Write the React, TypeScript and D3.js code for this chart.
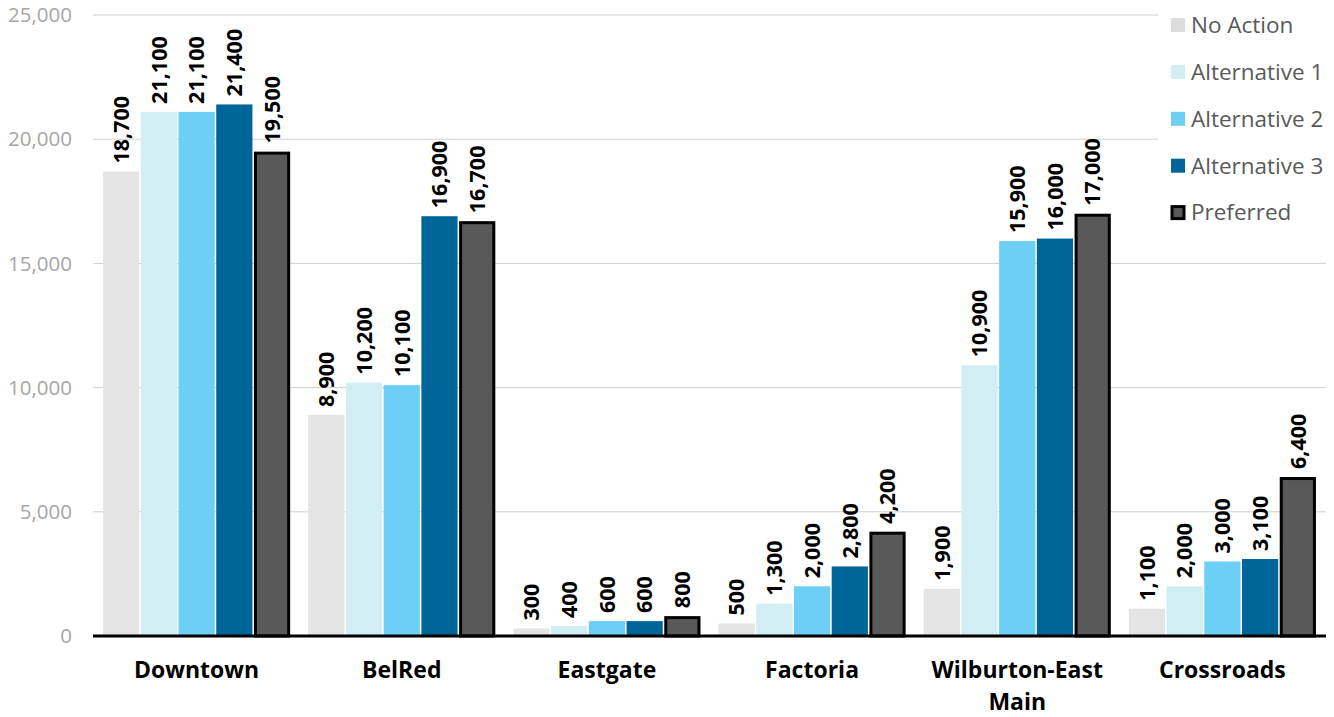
import React from "react";
import * as d3 from "d3";

const categories = ["Downtown", "BelRed", "Eastgate", "Factoria", "Wilburton-East Main", "Crossroads"];
const seriesNames = ["No Action", "Alternative 1", "Alternative 2", "Alternative 3", "Preferred"];
const noAction = [18700, 8900, 300, 500, 1900, 1100];
const alt1 = [21100, 10200, 400, 1300, 10900, 2000];
const alt2 = [21100, 10100, 600, 2000, 15900, 3000];
const alt3 = [21400, 16900, 600, 2800, 16000, 3100];
const preferred = [19500, 16700, 800, 4200, 17000, 6400];
const yTicks = [0, 5000, 10000, 15000, 20000, 25000];

const seriesValues = [noAction, alt1, alt2, alt3, preferred];
const colors = ["#e4e4e4", "#d0eef4", "#6dcff6", "#006699", "#595959"];

const W = 1334;
const H = 717;
const left = 93;
const right = 1326;
const top = 15;
const bottom = 636;

export default function App() {
  const y = d3.scaleLinear().domain([0, 25000]).range([bottom, top]);
  const x0 = d3
    .scaleBand<string>()
    .domain(categories)
    .range([left, right])
    .paddingInner(0.088)
    .paddingOuter(0.049);
  const x1 = d3
    .scaleBand<string>()
    .domain(seriesNames)
    .range([0, x0.bandwidth()])
    .paddingInner(0.04);
  const fmt = d3.format(",");
  const font = "'Open Sans', sans-serif";

  return (
    <svg
      width={W}
      height={H}
      style={{ position: "absolute", left: 0, top: 0, background: "#fff" }}
      fontFamily={font}
    >
      <defs>
        <pattern id="dots" width="4" height="4" patternUnits="userSpaceOnUse">
          <rect width="4" height="4" fill="#e6e6e6" />
          <rect x="1" y="1" width="1" height="1" fill="#d6d6d6" />
          <rect x="3" y="3" width="1" height="1" fill="#dadada" />
        </pattern>
      </defs>
      {yTicks.map((t) => (
        <g key={t}>
          {t > 0 && (
            <line x1={left} x2={right} y1={y(t)} y2={y(t)} stroke="#cfcfcf" strokeWidth={1} />
          )}
          <text
            x={72}
            y={y(t)}
            dy="0.35em"
            textAnchor="end"
            fontSize={20.5}
            fill="#a6a6a6"
          >
            {fmt(t)}
          </text>
        </g>
      ))}
      {categories.map((c, ci) => (
        <g key={c} transform={`translate(${x0(c)},0)`}>
          {seriesNames.map((s, si) => {
            const v = seriesValues[si][ci];
            const bx = x1(s) as number;
            const bw = x1.bandwidth();
            const isPref = si === 4;
            const yt = y(v);
            return (
              <g key={s}>
                {isPref ? (
                  <rect
                    x={bx + 1.5}
                    y={yt + 1.5}
                    width={bw - 3}
                    height={bottom - yt - 1.5}
                    fill={colors[si]}
                    stroke="#000"
                    strokeWidth={3}
                  />
                ) : (
                  <rect
                    x={bx}
                    y={yt}
                    width={bw}
                    height={bottom - yt}
                    fill={si === 0 ? "url(#dots)" : colors[si]}
                  />
                )}
                <text
                  transform={`translate(${bx + bw / 2},${yt - 8}) rotate(-90)`}
                  dy="0.36em"
                  textAnchor="start"
                  fontSize={21.5}
                  fontWeight={700}
                  fill="#000"
                >
                  {fmt(v)}
                </text>
              </g>
            );
          })}
        </g>
      ))}
      <line x1={left} x2={right} y1={bottom} y2={bottom} stroke="#000" strokeWidth={3} />
      {categories.map((c) => {
        const cx = (x0(c) as number) + x0.bandwidth() / 2;
        const parts = c === "Wilburton-East Main" ? ["Wilburton-East", "Main"] : [c];
        return (
          <text
            key={c}
            x={cx}
            y={678}
            textAnchor="middle"
            fontSize={23}
            fontWeight={700}
            fill="#000"
          >
            {parts.map((p, i) => (
              <tspan key={p} x={cx} dy={i === 0 ? 0 : 32}>
                {p}
              </tspan>
            ))}
          </text>
        );
      })}
      <rect x={1158} y={0} width={176} height={236} fill="#fff" />
      {seriesNames.map((s, i) => {
        const cy = 25 + i * 46.9;
        return (
          <g key={s}>
            {i === 4 ? (
              <rect x={1172} y={cy - 6} width={12} height={12} fill={colors[i]} stroke="#000" strokeWidth={3} />
            ) : (
              <rect x={1171} y={cy - 7} width={14} height={14} fill={i === 0 ? "#dcdcdc" : colors[i]} />
            )}
            <text x={1191} y={cy} dy="0.35em" fontSize={22.5} fill="#595959">
              {s}
            </text>
          </g>
        );
      })}
    </svg>
  );
}
